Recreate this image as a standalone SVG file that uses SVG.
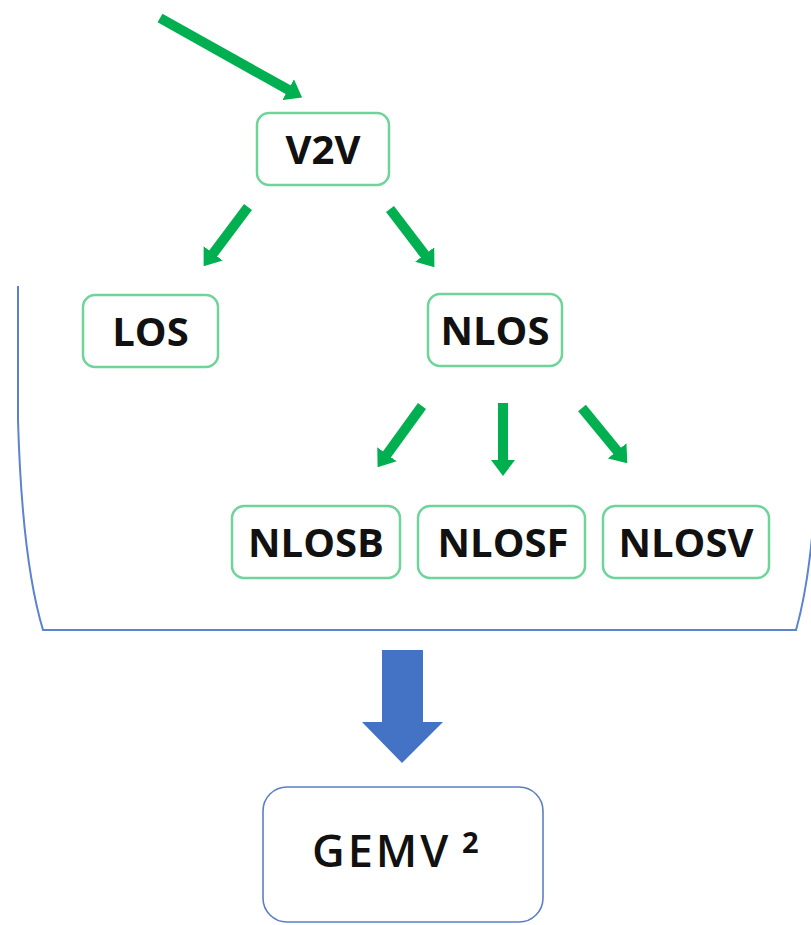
<svg xmlns="http://www.w3.org/2000/svg" width="811" height="925" viewBox="0 0 811 925">
  <style>
    .node rect { fill: #ffffff; stroke: #6fd49a; stroke-width: 2.5; }
    .node text { font-family: "Open Sans", "Liberation Sans", sans-serif; font-weight: bold; font-size: 40px; fill: #111111; text-anchor: middle; }
    .link { stroke: #00b050; stroke-width: 10; fill: none; stroke-linecap: butt; }
    .bracket { fill: none; stroke: #5b83cf; stroke-width: 2; }
    .result rect { fill: #ffffff; stroke: #5b7fc4; stroke-width: 1.6; }
    .result text { font-family: "Open Sans", "Liberation Sans", sans-serif; fill: #111111; }
  </style>
  <defs>
    <marker id="head" markerUnits="userSpaceOnUse" viewBox="0 0 16 24" markerWidth="16" markerHeight="24" refX="1" refY="12" orient="auto">
      <path d="M0,0 L16,12 L0,24 Z" fill="#00b050"/>
    </marker>
  </defs>

  <rect width="811" height="925" fill="#ffffff"/>

  <!-- grouping bracket around the sub-classes -->
  <path class="bracket" d="M18,286 L18,420 Q22,560 43,630 L796,630 Q816,560 818,420"/>

  <!-- connectors -->
  <g id="connectors">
    <line class="link" x1="160" y1="18" x2="289" y2="90.2" marker-end="url(#head)"/>
    <line class="link" x1="248" y1="207" x2="212.6" y2="254.2" marker-end="url(#head)"/>
    <line class="link" x1="390" y1="209" x2="425.3" y2="255.3" marker-end="url(#head)"/>
    <line class="link" x1="422" y1="406" x2="386.4" y2="455.1" marker-end="url(#head)"/>
    <line class="link" x1="503" y1="403" x2="503" y2="461" marker-end="url(#head)"/>
    <line class="link" x1="582" y1="408" x2="617.8" y2="451.6" marker-end="url(#head)"/>
    <!-- block arrow into the model -->
    <polygon points="382,650 423,650 423,722 443,722 402,763 362,722 382,722" fill="#4472c4"/>
  </g>

  <g id="v2v" class="node">
    <rect x="257" y="113" width="132" height="72" rx="12"/>
    <text x="323" y="164">V2V</text>
  </g>
  <g id="los" class="node">
    <rect x="83" y="295" width="135" height="72" rx="12"/>
    <text x="150.5" y="346">LOS</text>
  </g>
  <g id="nlos" class="node">
    <rect x="428" y="294" width="134" height="72" rx="12"/>
    <text x="495" y="345">NLOS</text>
  </g>
  <g id="nlosb" class="node">
    <rect x="232" y="506" width="168" height="72" rx="12"/>
    <text x="316" y="557">NLOSB</text>
  </g>
  <g id="nlosf" class="node">
    <rect x="418" y="506" width="167" height="72" rx="12"/>
    <text x="503" y="557">NLOSF</text>
  </g>
  <g id="nlosv" class="node">
    <rect x="603" y="506" width="166" height="72" rx="12"/>
    <text x="686" y="557">NLOSV</text>
  </g>

  <g id="gemv2" class="result">
    <rect x="263" y="787" width="280" height="135" rx="24"/>
    <text x="312" y="867" font-size="45" font-weight="600" letter-spacing="3">GEMV</text>
    <text x="462" y="853" font-size="29" font-weight="bold">2</text>
  </g>
</svg>
